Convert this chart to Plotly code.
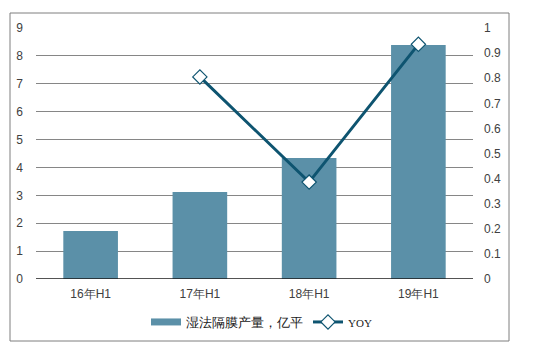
import plotly.graph_objects as go

categories = ["16年H1", "17年H1", "18年H1", "19年H1"]
output_vals = [1.72, 3.12, 4.34, 8.39]
yoy_cats = ["17年H1", "18年H1", "19年H1"]
yoy_vals = [0.805, 0.386, 0.935]
left_ticks = list(range(0, 10))
right_ticks = [0, 0.1, 0.2, 0.3, 0.4, 0.5, 0.6, 0.7, 0.8, 0.9, 1]
right_tick_text = ["0", "0.1", "0.2", "0.3", "0.4", "0.5", "0.6", "0.7", "0.8", "0.9", "1"]

W, H = 542, 352
L, R, T, B = 36, 69, 28, 73
pw, ph = W - L - R, H - T - B
bar_color = "#5B90A8"
line_color = "#0E5470"

fig = go.Figure()
fig.add_trace(go.Bar(
    x=categories, y=output_vals, name="湿法隔膜产量，亿平", showlegend=False,
    marker=dict(color=bar_color, line=dict(width=0)), width=0.5,
))
# legend proxy for the bar series (wide rectangle swatch)
fig.add_trace(go.Scatter(
    x=[None], y=[None], name="湿法隔膜产量，亿平", mode="lines",
    line=dict(color=bar_color, width=7),
))
fig.add_trace(go.Scatter(
    x=yoy_cats, y=yoy_vals, name="<span style=\"font-family:'Liberation Serif', serif; font-size:11px\">YOY</span>",
    yaxis="y2", mode="lines+markers",
    line=dict(color=line_color, width=3),
    marker=dict(symbol="diamond", size=11, color="white", line=dict(color=line_color, width=1.2)),
))

font_main = "Liberation Sans, Arial, sans-serif"
fig.update_layout(
    width=W, height=H, margin=dict(l=L, r=R, t=T, b=B),
    paper_bgcolor="white", plot_bgcolor="white",
    bargap=0.5, showlegend=True,
    font=dict(family=font_main, size=12, color="#404040"),
    xaxis=dict(showgrid=False, showline=False, ticks="", ticklabelstandoff=6,
               tickfont=dict(size=12, color="#404040")),
    yaxis=dict(range=[0, 9], tickvals=left_ticks, showgrid=True, gridcolor="#868686", gridwidth=1,
               zeroline=False, showline=False, ticks="", ticklabelstandoff=12,
               tickfont=dict(size=12, color="#404040")),
    yaxis2=dict(range=[0, 1], overlaying="y", side="right", tickvals=right_ticks, ticktext=right_tick_text,
                showgrid=False, zeroline=False, showline=False, ticks="", ticklabelstandoff=10,
                tickfont=dict(size=12, color="#404040")),
    legend=dict(orientation="h", x=0.5 + 7 / pw, xanchor="center", y=-(322 - 279) / ph, yanchor="middle",
                font=dict(size=13, color="#202020"), itemwidth=30, traceorder="normal"),
)
# zero axis line
fig.add_shape(type="line", xref="paper", yref="y", x0=0, x1=1, y0=0, y1=0,
              line=dict(color="#1a1a1a", width=1.5))
# outer border
fig.add_shape(type="rect", xref="paper", yref="paper",
              x0=(10 - L) / pw, x1=(509 - L) / pw, y0=(H - B - 341) / ph, y1=(H - B - 13) / ph,
              line=dict(color="#7f7f7f", width=1), layer="below")

fig.write_html("out.html")
